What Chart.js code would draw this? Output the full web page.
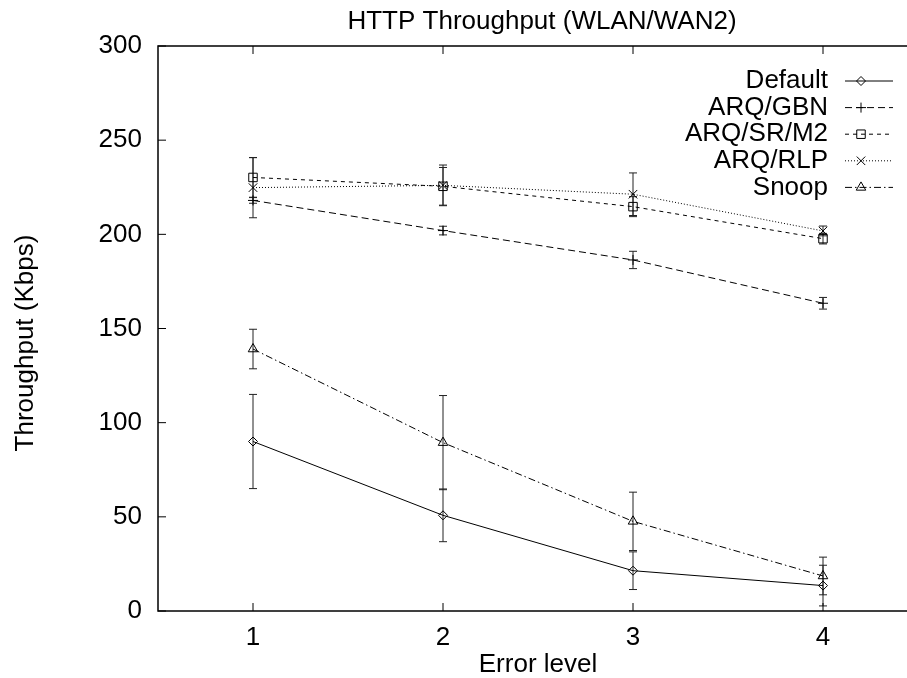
<!DOCTYPE html>
<html>
<head>
<meta charset="utf-8">
<script src="https://cdn.jsdelivr.net/npm/chart.js"></script>
<style>
  html, body { margin: 0; padding: 0; background: #fff; overflow: hidden; }
</style>
</head>
<body>
<canvas id="chart" width="940" height="678"></canvas>
<script>
// error levels (x axis)
var levels = [1, 2, 3, 4];
var seriesNames = ['Default', 'ARQ/GBN', 'ARQ/SR/M2', 'ARQ/RLP', 'Snoop'];

// throughput in Kbps + half height of the error bars
var defaultTp = [90, 50.8, 21.4, 13.5];
var defaultErr = [25, 14, 10, 10.8];
var gbnTp = [218, 202, 186.4, 163.4];
var gbnErr = [1.5, 2.3, 4.6, 3.1];
var srTp = [230.2, 225.5, 214.7, 197.7];
var srErr = [10.5, 10, 5.3, 2.8];
var rlpTp = [224.8, 226, 221.3, 201.8];
var rlpErr = [16, 10.8, 11.3, 2.6];
var snoopTp = [139.1, 89.4, 47.6, 18.6];
var snoopErr = [10.5, 25, 15.5, 10];

var yTicks = [0, 50, 100, 150, 200, 250, 300];

var FONT = "'Liberation Sans', Arial, Helvetica, sans-serif";
Chart.defaults.font.family = FONT;
Chart.defaults.font.size = 26;
Chart.defaults.color = '#000';

function pts(vals) {
  return levels.map(function (x, i) { return { x: x, y: vals[i] }; });
}

function makeSet(i, vals, errs, dash, style, radius) {
  return {
    label: seriesNames[i],
    data: pts(vals),
    err: errs,
    borderColor: '#000',
    borderWidth: 1,
    borderDash: dash,
    pointStyle: style,
    pointRadius: radius,
    pointBorderWidth: 1,
    pointBorderColor: '#000',
    pointBackgroundColor: 'rgba(0,0,0,0)',
    fill: false,
    tension: 0
  };
}

// error bars, drawn under the lines and markers
var errorBars = {
  id: 'errorBars',
  beforeDatasetsDraw: function (chart) {
    var ctx = chart.ctx, xs = chart.scales.x, ys = chart.scales.y;
    ctx.save();
    ctx.strokeStyle = '#222';
    ctx.lineWidth = 1;
    chart.data.datasets.forEach(function (ds) {
      ds.data.forEach(function (p, i) {
        var px = xs.getPixelForValue(p.x);
        var top = ys.getPixelForValue(p.y + ds.err[i]);
        var bot = ys.getPixelForValue(p.y - ds.err[i]);
        ctx.beginPath();
        ctx.moveTo(px, top); ctx.lineTo(px, bot);
        ctx.moveTo(px - 4, top); ctx.lineTo(px + 4, top);
        ctx.moveTo(px - 4, bot); ctx.lineTo(px + 4, bot);
        ctx.stroke();
      });
    });
    ctx.restore();
  }
};

// gnuplot style box, inward ticks, titles and legend
var frame = {
  id: 'frame',
  afterDraw: function (chart) {
    var ctx = chart.ctx, a = chart.chartArea, xs = chart.scales.x, ys = chart.scales.y;
    ctx.save();
    ctx.strokeStyle = '#000';
    ctx.lineWidth = 1.5;
    ctx.strokeRect(a.left, a.top, a.right - a.left, a.bottom - a.top);

    ctx.lineWidth = 1;
    ctx.beginPath();
    levels.forEach(function (v) {
      var px = xs.getPixelForValue(v);
      ctx.moveTo(px, a.bottom); ctx.lineTo(px, a.bottom - 8);
      ctx.moveTo(px, a.top); ctx.lineTo(px, a.top + 8);
    });
    yTicks.forEach(function (v) {
      var py = ys.getPixelForValue(v);
      ctx.moveTo(a.left, py); ctx.lineTo(a.left + 8, py);
      ctx.moveTo(a.right, py); ctx.lineTo(a.right - 8, py);
    });
    ctx.stroke();

    ctx.fillStyle = '#000';
    ctx.font = '26px ' + FONT;
    ctx.textAlign = 'center';
    ctx.textBaseline = 'middle';
    ctx.fillText('HTTP Throughput (WLAN/WAN2)', (a.left + a.right) / 2 + 4, 22);

    ctx.save();
    ctx.translate(26, 343);
    ctx.rotate(-Math.PI / 2);
    ctx.fillText('Throughput (Kbps)', 0, 0);
    ctx.restore();

    // legend: text right aligned, sample line + marker to its right
    chart.data.datasets.forEach(function (ds, i) {
      var y = a.top + 35 + i * 26.6;
      ctx.textAlign = 'right';
      ctx.fillStyle = '#000';
      ctx.fillText(ds.label, a.right - 90, y);
      ctx.setLineDash(ds.borderDash);
      ctx.beginPath();
      ctx.moveTo(a.right - 73, y);
      ctx.lineTo(a.right - 25, y);
      ctx.stroke();
      ctx.setLineDash([]);
      ctx.fillStyle = 'rgba(0,0,0,0)';
      if (Chart.helpers && Chart.helpers.drawPoint) {
        Chart.helpers.drawPoint(ctx, {
          pointStyle: ds.pointStyle, radius: ds.pointRadius, borderWidth: 1, rotation: 0
        }, a.right - 57, y);
      }
    });
    ctx.restore();
  }
};

new Chart(document.getElementById('chart'), {
  type: 'line',
  data: {
    datasets: [
      makeSet(0, defaultTp, defaultErr, [], 'rectRot', 4.5),
      makeSet(1, gbnTp, gbnErr, [7, 4], 'cross', 5),
      makeSet(2, srTp, srErr, [4, 4], 'rect', 6),
      makeSet(3, rlpTp, rlpErr, [1, 2], 'crossRot', 6),
      makeSet(4, snoopTp, snoopErr, [7, 3, 1.5, 3], 'triangle', 5.5)
    ]
  },
  options: {
    responsive: false,
    animation: false,
    layout: { padding: { top: 46, right: 22, left: 0, bottom: 0 } },
    plugins: {
      legend: { display: false },
      title: { display: false },
      tooltip: { enabled: false }
    },
    scales: {
      x: {
        type: 'linear',
        min: 0.5,
        max: 4.5,
        afterBuildTicks: function (s) {
          s.ticks = levels.map(function (v) { return { value: v }; });
        },
        afterFit: function (s) { s.height = 67; },
        grid: { display: false },
        border: { display: false },
        ticks: { padding: 3, font: { size: 26 } },
        title: { display: true, text: 'Error level', padding: { top: 0, bottom: -2 }, font: { size: 26 } }
      },
      y: {
        min: 0,
        max: 300,
        afterBuildTicks: function (s) {
          s.ticks = yTicks.map(function (v) { return { value: v }; });
        },
        afterFit: function (s) { s.width = 158; },
        grid: { display: false },
        border: { display: false },
        ticks: { padding: 8, font: { size: 26 } }
      }
    }
  },
  plugins: [errorBars, frame]
});
</script>
</body>
</html>
